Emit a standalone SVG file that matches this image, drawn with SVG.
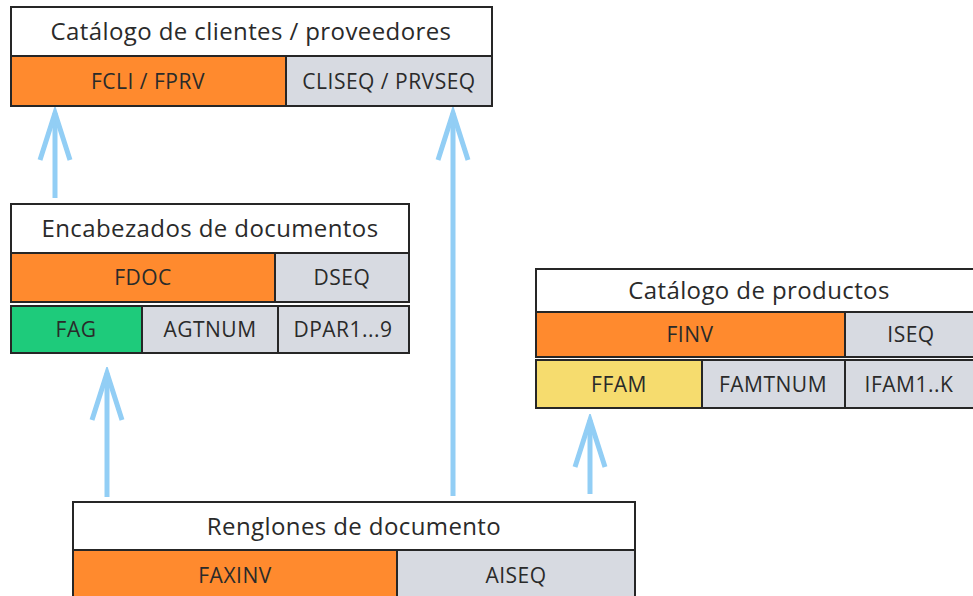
<svg xmlns="http://www.w3.org/2000/svg" width="973" height="596" viewBox="0 0 973 596">
<style>
rect{stroke:#262626;stroke-width:2}
.t{fill:#fff}
.o{fill:#FF8A2E}
.g{fill:#D7DAE1}
.gr{fill:#1ECB7B}
.y{fill:#F6DC6E}
text{font-family:"Open Sans","Noto Sans",sans-serif;fill:#2a2a2a;text-anchor:middle}
.h{font-size:24px;letter-spacing:0.4px}
.f{font-size:21px;letter-spacing:0.5px;font-weight:500}
.c{stroke:#92CEF5;stroke-width:5;fill:none}
</style>
<defs>
<marker id="arr" markerUnits="userSpaceOnUse" viewBox="-56 -20 62 40" markerWidth="62" markerHeight="40" refX="0" refY="0" orient="auto">
<path d="M-47,-15 L0,0 L-47,15" fill="none" stroke="#92CEF5" stroke-width="5"/>
</marker>
</defs>
<g id="connectors">
<path class="c" d="M55,198 V113" marker-end="url(#arr)"/>
<path class="c" d="M453,496 V113" marker-end="url(#arr)"/>
<path class="c" d="M107,497 V373" marker-end="url(#arr)"/>
<path class="c" d="M590,494 V420" marker-end="url(#arr)"/>
</g>
<g id="clientes">
<rect class="t" x="11" y="7" width="481" height="49"/>
<rect class="o" x="11" y="56" width="275" height="50"/>
<rect class="g" x="286" y="56" width="206" height="50"/>
<text class="h" x="251" y="40">Catálogo de clientes / proveedores</text>
<text class="f" x="148" y="89">FCLI / FPRV</text>
<text class="f" x="389" y="89">CLISEQ / PRVSEQ</text>
</g>
<g id="encabezados">
<rect class="t" x="11" y="204" width="398" height="49"/>
<rect class="o" x="11" y="253" width="264" height="49"/>
<rect class="g" x="275" y="253" width="134" height="49"/>
<rect class="gr" x="11" y="306" width="131" height="47"/>
<rect class="g" x="142" y="306" width="136" height="47"/>
<rect class="g" x="278" y="306" width="131" height="47"/>
<text class="h" x="210" y="237">Encabezados de documentos</text>
<text class="f" x="143" y="285">FDOC</text>
<text class="f" x="342" y="285">DSEQ</text>
<text class="f" x="76" y="337">FAG</text>
<text class="f" x="210" y="337">AGTNUM</text>
<text class="f" x="343" y="337">DPAR1...9</text>
</g>
<g id="productos">
<rect class="t" x="536" y="269" width="440" height="43"/>
<rect class="o" x="536" y="312" width="309" height="45"/>
<rect class="g" x="845" y="312" width="131" height="45"/>
<rect class="y" x="536" y="360" width="166" height="48"/>
<rect class="g" x="702" y="360" width="143" height="48"/>
<rect class="g" x="845" y="360" width="131" height="48"/>
<text class="h" x="759" y="299">Catálogo de productos</text>
<text class="f" x="690" y="342">FINV</text>
<text class="f" x="911" y="342">ISEQ</text>
<text class="f" x="619" y="392">FFAM</text>
<text class="f" x="773" y="392">FAMTNUM</text>
<text class="f" x="909" y="392">IFAM1..K</text>
</g>
<g id="renglones">
<rect class="t" x="73" y="502" width="562" height="48"/>
<rect class="o" x="73" y="550" width="324" height="50"/>
<rect class="g" x="397" y="550" width="238" height="50"/>
<text class="h" x="354" y="535">Renglones de documento</text>
<text class="f" x="235" y="583">FAXINV</text>
<text class="f" x="516" y="583">AISEQ</text>
</g>
</svg>
